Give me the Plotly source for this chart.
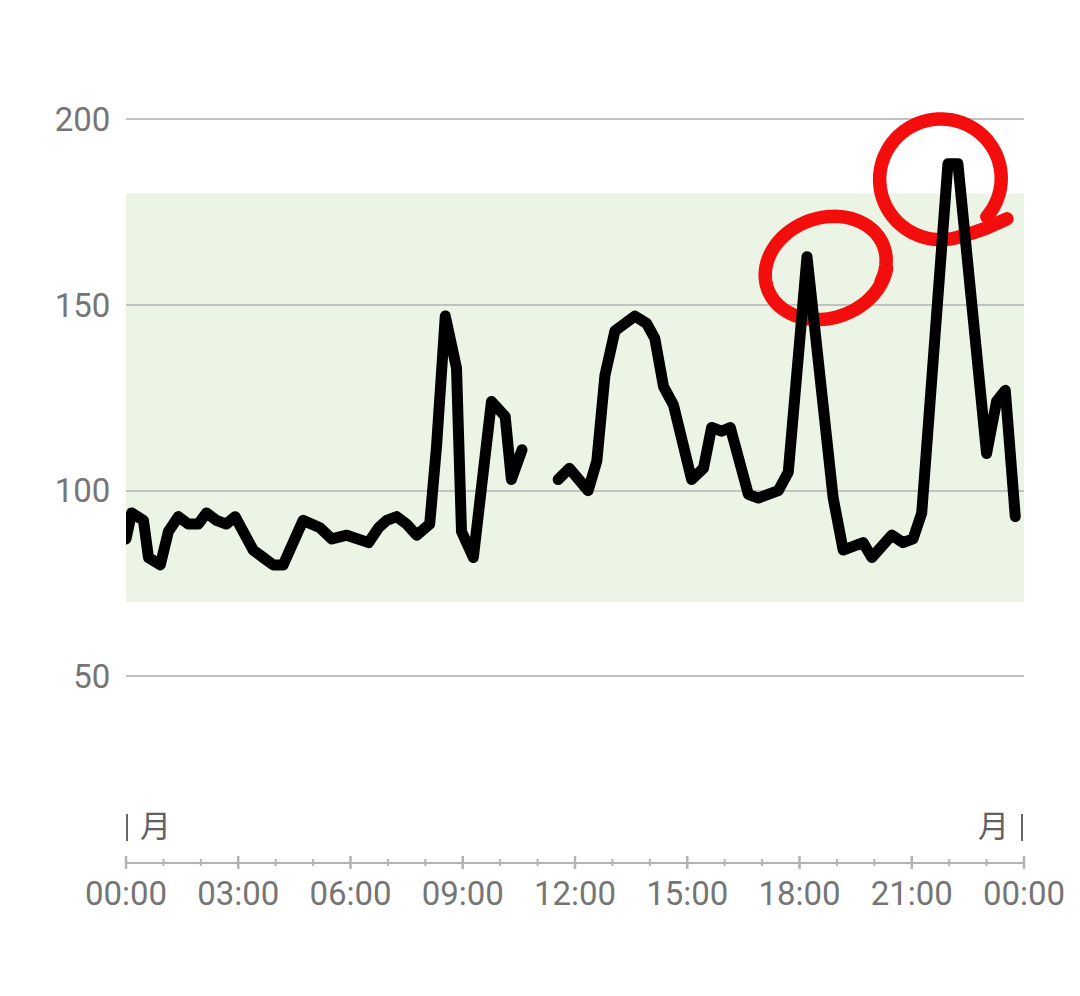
import numpy as np
import plotly.graph_objects as go

# Glucose readings over one day (mg/dL); None marks a gap in the sensor data
times = [
    "00:00", "00:09", "00:28", "00:36", "00:55", "01:08", "01:24", "01:40", "01:56",
    "02:09", "02:25", "02:41", "02:55", "03:08", "03:24", "03:40", "03:56", "04:12",
    "04:44", "05:11", "05:30", "05:54", "06:29", "06:45", "06:58", "07:14", "07:30",
    "07:46", "08:07", "08:18", "08:32", "08:50", "08:58", "09:17", "09:46", "10:08",
    "10:18", "10:35", "11:05",
    "11:33", "11:51", "12:21", "12:35", "12:48", "13:04", "13:36", "13:55", "14:08",
    "14:22", "14:38", "14:54", "15:07", "15:26", "15:39", "15:55", "16:09", "16:38",
    "16:54", "17:26", "17:42", "18:12", "18:54", "19:10", "19:42", "19:56", "20:28",
    "20:46", "21:02", "21:16", "21:58", "22:14", "22:45", "23:00", "23:16", "23:30",
    "23:46",
]
glucose = [
    87, 94, 92, 82, 80, 89, 93, 91, 91,
    94, 92, 91, 93, 89, 84, 82, 80, 80,
    92, 90, 87, 88, 86, 90, 92, 93, 91,
    88, 91, 112, 147, 133, 89, 82, 124, 120,
    103, 111, None,
    103, 106, 100, 108, 131, 143, 147, 145, 141,
    128, 123, 112, 103, 106, 117, 116, 117, 99,
    98, 100, 105, 163, 98, 84, 86, 82, 88,
    86, 87, 94, 188, 188, 130, 110, 124, 127,
    93,
]

target_low, target_high = 70, 180
y_ticks = [50, 100, 150, 200]
x_tick_hours = [0, 3, 6, 9, 12, 15, 18, 21, 24]
x_tick_labels = ["00:00", "03:00", "06:00", "09:00", "12:00",
                 "15:00", "18:00", "21:00", "00:00"]
day_label = "月"

W, H = 1080, 996
MARGIN = dict(l=126, r=56, t=45, b=134)
Y_RANGE = [0, 220]
plot_w = W - MARGIN["l"] - MARGIN["r"]
plot_h = H - MARGIN["t"] - MARGIN["b"]
px_per_hour = plot_w / 24
px_per_unit = plot_h / (Y_RANGE[1] - Y_RANGE[0])

TICK_GREY = "#757575"
AXIS_GREY = "#b3b3b3"
FONT = "Roboto, 'Noto Sans', sans-serif"


def to_hours(t):
    h, m = t.split(":")
    return int(h) + int(m) / 60


hours = [to_hours(t) for t in times]


def sketch_loop(h0, v0, dx, dy, rx, ry, tilt, start, stop, grow=0.0, tail=None, n=140):
    """Hand-drawn style loop around (h0, v0); geometry given in screen pixels."""
    th = np.radians(np.linspace(start, stop, n))
    scale = 1 + grow * np.linspace(-0.5, 0.5, n)
    ph = np.radians(tilt)
    ex = rx * np.cos(th) * scale
    ey = ry * np.sin(th) * scale
    sx = list(dx + ex * np.cos(ph) - ey * np.sin(ph))
    sy = list(dy + ex * np.sin(ph) + ey * np.cos(ph))
    if tail:
        for tx, ty in tail:
            sx.append(dx + tx)
            sy.append(dy + ty)
    xs = [h0 + x / px_per_hour for x in sx]
    ys = [v0 - y / px_per_unit for y in sy]
    return xs, ys


# locate the two evening peaks that get circled
def peak_in(h_lo, h_hi):
    best = None
    for h, v in zip(hours, glucose):
        if v is not None and h_lo <= h <= h_hi and (best is None or v > best[1]):
            best = (h, v)
    return best


p1 = peak_in(17, 20)
p2 = peak_in(21, 23)

fig = go.Figure()

RED = "#f40d0d"
c1x, c1y = sketch_loop(p1[0], p1[1], 19, 11, 62, 50, -20, 40, -335, grow=0.02)
c2x, c2y = sketch_loop(p2[0], p2[1], -7, 15, 61, 60, -8, 48, -282, grow=0.03,
                       tail=[(26, 56), (46, 49), (66, 40)])
for cx, cy in ((c1x, c1y), (c2x, c2y)):
    fig.add_trace(go.Scatter(
        x=cx, y=cy, mode="lines",
        line=dict(color=RED, width=13.5, simplify=False),
        hoverinfo="skip", showlegend=False,
    ))

fig.add_trace(go.Scatter(
    x=hours, y=glucose, mode="lines", connectgaps=False,
    line=dict(color="#000000", width=11),
    hoverinfo="skip", showlegend=False,
))

shapes = [
    dict(type="rect", xref="x", yref="y", x0=0, x1=24,
         y0=target_low, y1=target_high,
         fillcolor="#ecf5e5", line=dict(width=0), layer="below"),
]

# x-axis tick marks crossing the axis line (major every 3 h, minor hourly)
for h in range(25):
    major = h % 3 == 0
    up, down = (6, 7) if major else (3, 4)
    xp = h / 24
    shapes.append(dict(
        type="line", xref="paper", yref="paper", x0=xp, x1=xp,
        y0=-down / plot_h, y1=up / plot_h,
        line=dict(color=AXIS_GREY, width=2.5 if major else 2),
    ))

# day boundary markers
for xp, shift in ((0, 1), (1, -2)):
    shapes.append(dict(
        type="line", xref="paper", yref="paper",
        x0=xp + shift / plot_w, x1=xp + shift / plot_w,
        y0=21 / plot_h, y1=48 / plot_h,
        line=dict(color="#666666", width=2),
    ))

annotations = [
    dict(text=day_label, xref="paper", yref="paper", x=12 / plot_w, y=39 / plot_h,
         xanchor="left", yanchor="middle", showarrow=False,
         font=dict(family="'Noto Sans CJK JP'", size=31, color="#616161")),
    dict(text=day_label, xref="paper", yref="paper", x=1 - 13 / plot_w, y=39 / plot_h,
         xanchor="right", yanchor="middle", showarrow=False,
         font=dict(family="'Noto Sans CJK JP'", size=31, color="#616161")),
]

fig.update_layout(
    width=W, height=H,
    margin=MARGIN,
    paper_bgcolor="#ffffff", plot_bgcolor="#ffffff",
    showlegend=False,
    shapes=shapes,
    annotations=annotations,
    xaxis=dict(
        range=[0, 24], tickvals=x_tick_hours, ticktext=x_tick_labels,
        showgrid=False, zeroline=False,
        showline=True, linecolor=AXIS_GREY, linewidth=2,
        ticks="outside", ticklen=1, tickcolor="rgba(0,0,0,0)",
        tickfont=dict(family=FONT, size=33, color=TICK_GREY),
        fixedrange=True,
    ),
    yaxis=dict(
        range=Y_RANGE, tickvals=y_ticks,
        showgrid=True, gridcolor="#c2c2c2", gridwidth=1.5,
        zeroline=False, showline=False,
        ticks="outside", ticklen=8, tickcolor="rgba(0,0,0,0)",
        tickfont=dict(family=FONT, size=33, color=TICK_GREY),
        fixedrange=True,
    ),
)

# round joins and caps for the drawn strokes
round_strokes = """
document.querySelectorAll('.scatterlayer path.js-line').forEach(function (p) {
    p.style.strokeLinejoin = 'round';
    p.style.strokeLinecap = 'round';
});
"""

fig.write_html("out.html", post_script=round_strokes)
